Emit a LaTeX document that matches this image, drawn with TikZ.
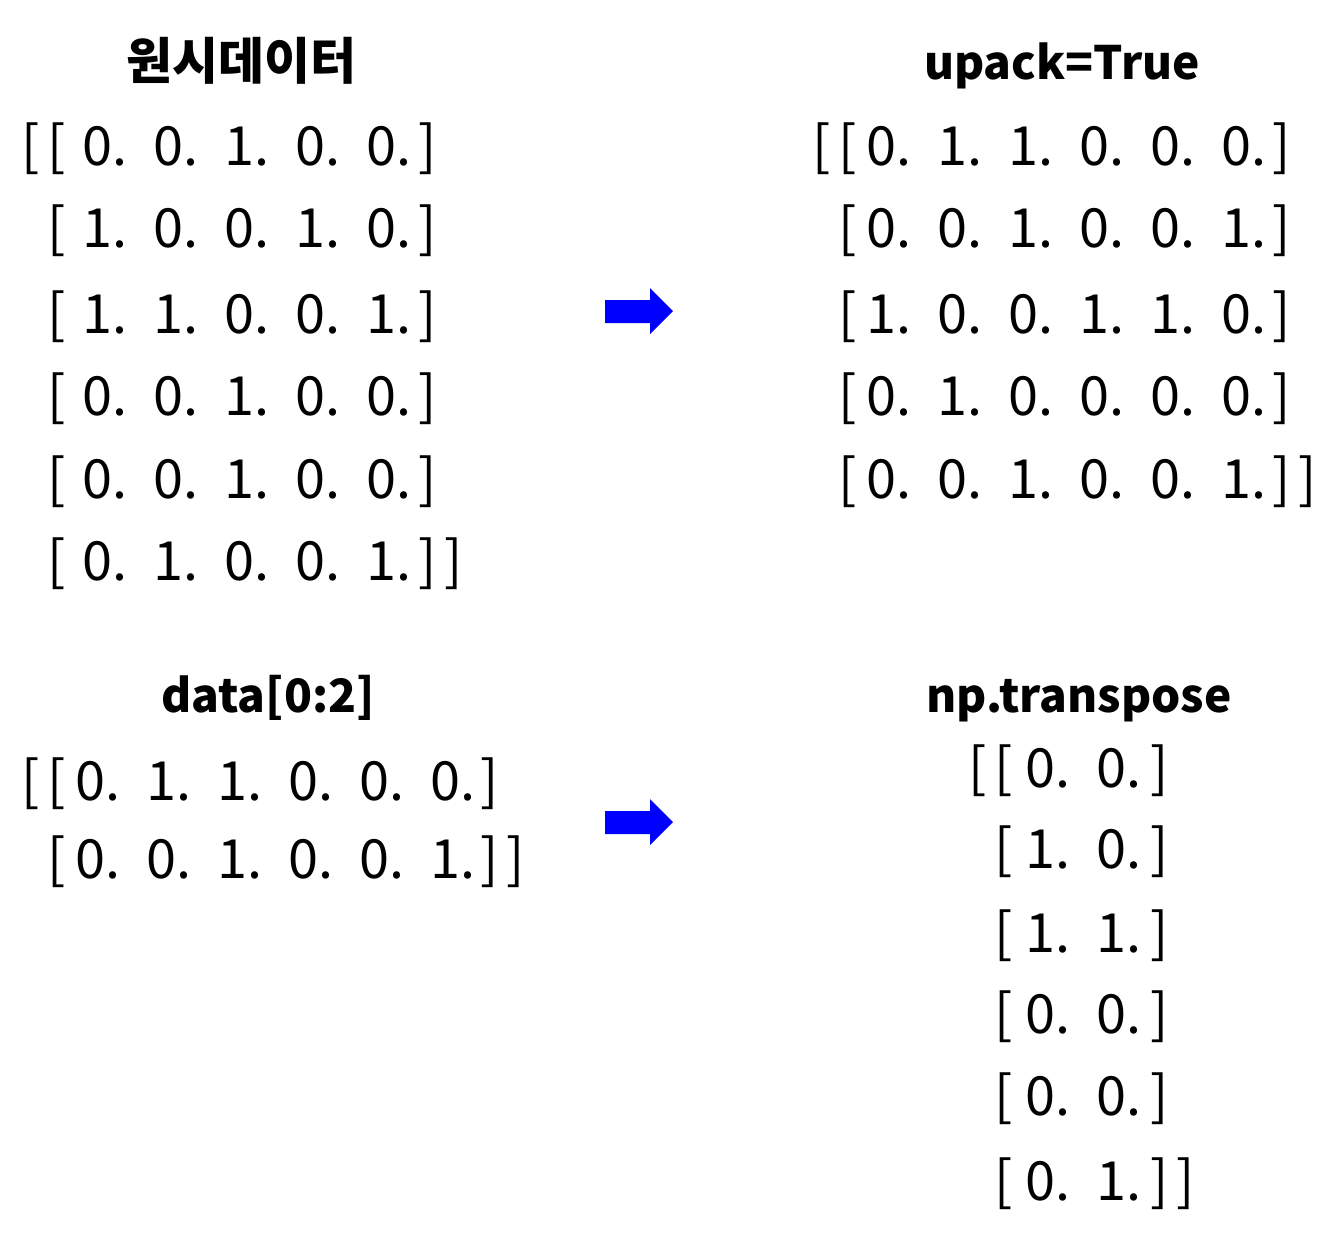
\documentclass[tikz,border=0pt]{standalone}
\usepackage{fontspec}
\setmainfont{Noto Sans CJK KR}
\newfontfamily\krfont{Noto Sans CJK KR}
\begin{document}
\begin{tikzpicture}[x=0.5pt,y=-0.5pt,
  num/.style={font=\krfont\fontsize{27}{30}\selectfont, inner sep=0pt, anchor=base west},
  brk/.style={font=\krfont\fontsize{27}{30}\selectfont, inner sep=0pt, anchor=base},
  ttl/.style={font=\krfont\bfseries\fontsize{23}{28}\selectfont, inner sep=0pt, anchor=base},
  kttl/.style={font=\krfont\bfseries\fontsize{25}{28}\selectfont, inner sep=0pt, anchor=base},
  blockarrow/.style={fill=blue, draw=none}]
\useasboundingbox[fill=white] (0,0) rectangle (1339,1243);

% titles
\node[kttl] (t1) at (241,79) {원시데이터};
\node[ttl] (t2) at (1062,79) {upack=True};
\node[ttl] (t3) at (268,712) {data[0:2]};
\node[ttl] (t4) at (1079,712) {np.transpose};

% top-left matrix
\foreach \y/\vals [count=\r] in {165/{0,0,1,0,0},247/{1,0,0,1,0},333/{1,1,0,0,1},415/{0,0,1,0,0},498/{0,0,1,0,0},580/{0,1,0,0,1}}{
  \node[brk] (A-\r-o) at (57,\y) {[};
  \foreach \v [count=\c] in \vals {
    \node[num] (A-\r-\c) at ({82+71*(\c-1)},\y) {\v.};
  }
  \node[brk] (A-\r-c) at (428,\y) {]};
}
\node[brk] (A-oo) at (31,165) {[};
\node[brk] (A-cc) at (454,580) {]};

% top-right matrix
\foreach \y/\vals [count=\r] in {165/{0,1,1,0,0,0},247/{0,0,1,0,0,1},333/{1,0,0,1,1,0},415/{0,1,0,0,0,0},498/{0,0,1,0,0,1}}{
  \node[brk] (B-\r-o) at (848,\y) {[};
  \foreach \v [count=\c] in \vals {
    \node[num] (B-\r-\c) at ({866+71*(\c-1)},\y) {\v.};
  }
  \node[brk] (B-\r-c) at (1282,\y) {]};
}
\node[brk] (B-oo) at (822,165) {[};
\node[brk] (B-cc) at (1308,498) {]};

% bottom-left matrix
\foreach \y/\vals [count=\r] in {800/{0,1,1,0,0,0},878/{0,0,1,0,0,1}}{
  \node[brk] (C-\r-o) at (57,\y) {[};
  \foreach \v [count=\c] in \vals {
    \node[num] (C-\r-\c) at ({75+71*(\c-1)},\y) {\v.};
  }
  \node[brk] (C-\r-c) at (490,\y) {]};
}
\node[brk] (C-oo) at (31,800) {[};
\node[brk] (C-cc) at (516,878) {]};

% bottom-right matrix
\foreach \y/\vals [count=\r] in {787/{0,0},868/{1,0},952/{1,1},1033/{0,0},1115/{0,0},1200/{0,1}}{
  \node[brk] (D-\r-o) at (1004,\y) {[};
  \foreach \v [count=\c] in \vals {
    \node[num] (D-\r-\c) at ({1025+71*(\c-1)},\y) {\v.};
  }
  \node[brk] (D-\r-c) at (1160,\y) {]};
}
\node[brk] (D-oo) at (978,787) {[};
\node[brk] (D-cc) at (1186,1200) {]};

% arrows
\fill[blockarrow] (605,300) -- (650,300) -- (650,288) -- (673,311) -- (650,334) -- (650,323) -- (605,323) -- cycle;
\fill[blockarrow] (605,811) -- (650,811) -- (650,799) -- (673,822) -- (650,845) -- (650,834) -- (605,834) -- cycle;
\end{tikzpicture}
\end{document}
